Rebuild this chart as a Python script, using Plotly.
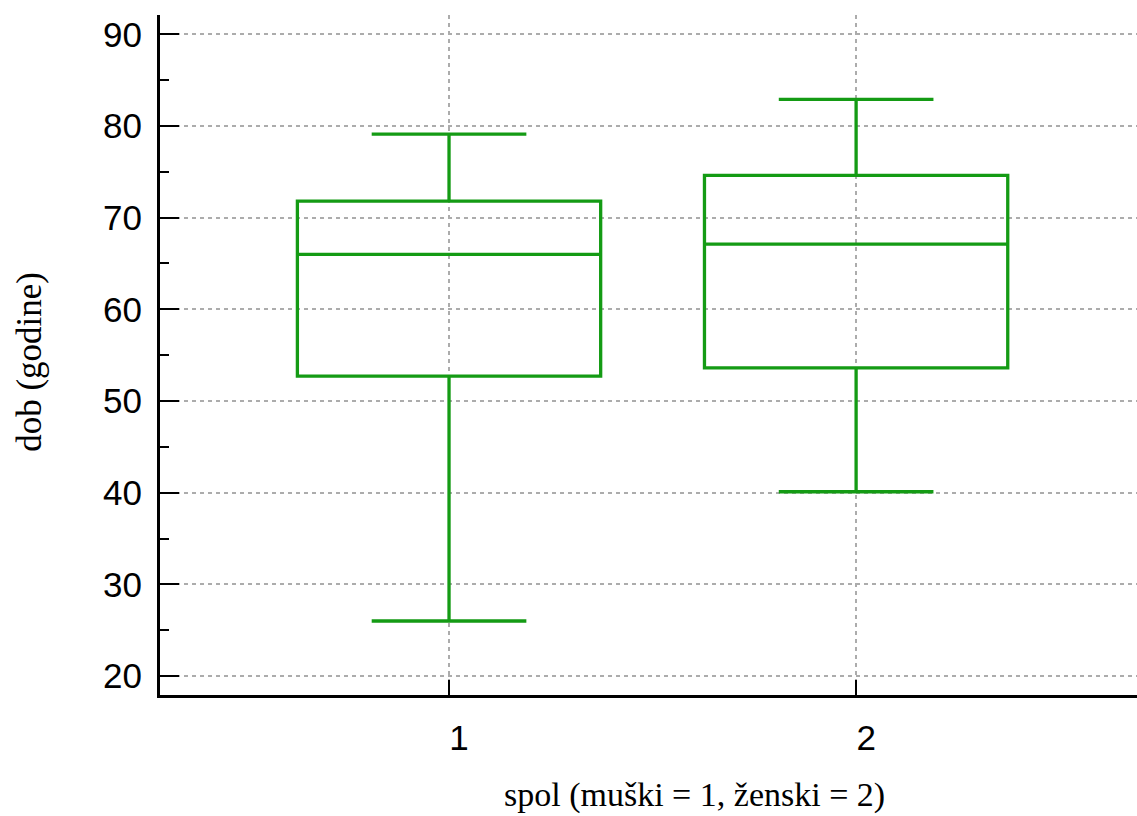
import plotly.graph_objects as go

groups = [1, 2]
q1 = [52.7, 53.6]
medians = [66.0, 67.1]
q3 = [71.8, 74.6]
lower = [26.0, 40.1]
upper = [79.1, 82.9]
y_ticks = [20, 30, 40, 50, 60, 70, 80, 90]

green = "rgb(20,155,20)"
grid_col = "#acacac"

fig = go.Figure()
fig.add_trace(go.Box(
    x=groups, q1=q1, median=medians, q3=q3,
    lowerfence=lower, upperfence=upper,
    width=0.745, whiskerwidth=0.51,
    line=dict(color=green, width=3.3),
    fillcolor="rgba(0,0,0,0)",
    boxpoints=False, showlegend=False,
))

fig.update_layout(
    width=1137, height=816,
    margin=dict(l=160, r=0, t=15, b=121),
    paper_bgcolor="white", plot_bgcolor="white",
    font=dict(family="Liberation Sans, Arial", color="black"),
    annotations=[
        dict(text="spol (muški = 1, ženski = 2)", xref="paper", yref="paper",
             x=0.547, y=-0.147, xanchor="center", yanchor="middle", showarrow=False,
             font=dict(family="Liberation Serif, Times New Roman", size=34)),
        dict(text="dob (godine)", xref="paper", yref="paper",
             x=-0.133, y=0.49, xanchor="center", yanchor="middle", showarrow=False,
             textangle=-90,
             font=dict(family="Liberation Serif, Times New Roman", size=35)),
    ],
)
fig.update_xaxes(
    range=[0.29, 2.69], tickvals=groups, ticktext=[str(g) for g in groups],
    showline=True, linecolor="black", linewidth=3,
    ticks="inside", ticklen=15, tickwidth=2, tickcolor="black",
    showgrid=True, gridcolor=grid_col, griddash="4px,4px", gridwidth=1.5,
    zeroline=False, tickfont=dict(size=35), ticklabelstandoff=10, ticklabelshift=10,
)
fig.update_yaxes(
    range=[17.93, 92.1], tickvals=y_ticks,
    showline=True, linecolor="black", linewidth=3,
    ticks="inside", ticklen=19, tickwidth=2, tickcolor="black",
    minor=dict(ticks="inside", ticklen=9, tickwidth=1.5, tickcolor="black", dtick=5, showgrid=False),
    showgrid=True, gridcolor=grid_col, griddash="4px,4px", gridwidth=1.5,
    zeroline=False, tickfont=dict(size=35), ticklabelstandoff=8,
)

fig.write_html("out.html")
